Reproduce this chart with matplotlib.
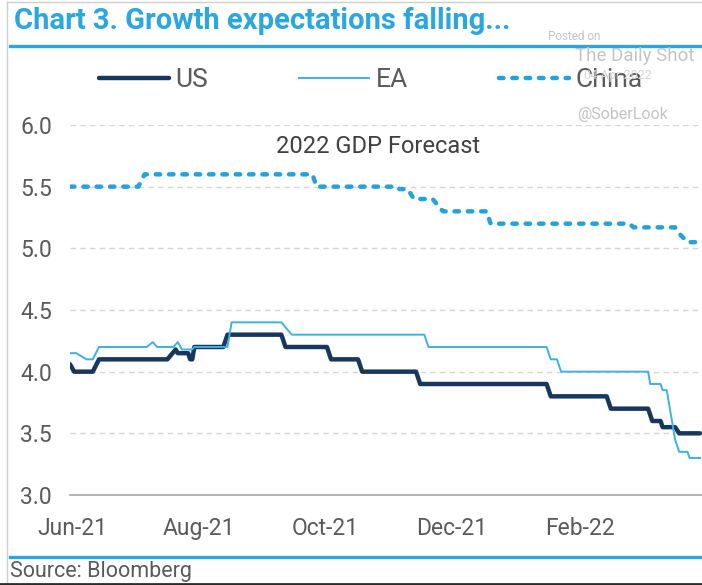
import matplotlib
matplotlib.use("Agg")
import matplotlib.pyplot as plt
from matplotlib.lines import Line2D
import pandas as pd

# 2022 GDP growth forecasts (%), consensus path by date
us_dates = ["2021-05-31", "2021-06-02", "2021-06-11", "2021-06-14", "2021-07-17",
            "2021-07-21", "2021-07-22", "2021-07-27", "2021-07-28", "2021-07-29",
            "2021-07-30", "2021-08-13", "2021-08-15", "2021-09-10", "2021-09-12",
            "2021-10-02", "2021-10-04", "2021-10-17", "2021-10-19", "2021-11-14",
            "2021-11-16", "2022-01-16", "2022-01-18", "2022-02-14", "2022-02-16",
            "2022-03-06", "2022-03-08", "2022-03-12", "2022-03-13", "2022-03-19",
            "2022-03-21", "2022-03-31"]
us_values = [4.06, 4.0, 4.0, 4.1, 4.1,
             4.18, 4.15, 4.15, 4.1, 4.1,
             4.2, 4.2, 4.3, 4.3, 4.2,
             4.2, 4.1, 4.1, 4.0, 4.0,
             3.9, 3.9, 3.8, 3.8, 3.7,
             3.7, 3.6, 3.6, 3.55, 3.55,
             3.5, 3.5]

ea_dates = ["2021-05-31", "2021-06-03", "2021-06-08", "2021-06-11", "2021-06-14",
            "2021-07-07", "2021-07-10", "2021-07-12", "2021-07-20", "2021-07-22",
            "2021-07-24", "2021-07-29", "2021-07-30", "2021-08-15", "2021-08-17",
            "2021-09-10", "2021-09-15", "2021-11-18", "2021-11-20", "2022-01-16",
            "2022-01-18", "2022-01-21", "2022-01-23", "2022-03-06", "2022-03-07",
            "2022-03-12", "2022-03-13", "2022-03-15", "2022-03-19", "2022-03-21",
            "2022-03-25", "2022-03-26", "2022-03-31"]
ea_values = [4.15, 4.15, 4.1, 4.1, 4.2,
             4.2, 4.24, 4.2, 4.2, 4.24,
             4.18, 4.18, 4.2, 4.2, 4.4,
             4.4, 4.3, 4.3, 4.2, 4.2,
             4.1, 4.1, 4.0, 4.0, 3.9,
             3.9, 3.85, 3.85, 3.45, 3.35,
             3.35, 3.3, 3.3]

china_dates = ["2021-05-31", "2021-07-03", "2021-07-06", "2021-09-25", "2021-09-27",
               "2021-11-05", "2021-11-06", "2021-11-10", "2021-11-13", "2021-11-22",
               "2021-11-27", "2021-12-18", "2021-12-20", "2022-02-25", "2022-02-27",
               "2022-03-19", "2022-03-21", "2022-03-25", "2022-03-31"]
china_values = [5.5, 5.5, 5.6, 5.6, 5.5,
                5.5, 5.48, 5.48, 5.4, 5.4,
                5.3, 5.3, 5.2, 5.2, 5.17,
                5.17, 5.12, 5.05, 5.05]

series_names = ["US", "EA", "China"]
tick_dates = ["2021-06-01", "2021-08-01", "2021-10-01", "2021-12-01", "2022-02-01"]
tick_labels = ["Jun-21", "Aug-21", "Oct-21", "Dec-21", "Feb-22"]
y_ticks = [3.0, 3.5, 4.0, 4.5, 5.0, 5.5, 6.0]

NAVY = "#17375E"
SKY = "#3DB1E2"
CHINA_BLUE = "#22A3DB"
TITLE_BLUE = "#2AA7DF"
TEXT_GREY = "#5A5A5A"
WM_GREY = "#C4C4C4"

plt.rcParams["font.family"] = ["Roboto", "DejaVu Sans"]

W, H = 702, 585
fig = plt.figure(figsize=(W / 100, H / 100), dpi=100)
fig.patch.set_facecolor("white")


def fx(px):
    return px / W


def fy(py):
    return 1 - py / H


ax = fig.add_axes([fx(70), fy(495), fx(702) - fx(70), fy(125) - fy(495)])

ax.plot(pd.to_datetime(us_dates), us_values, color=NAVY, lw=3.2,
        solid_joinstyle="round", solid_capstyle="round", label=series_names[0], zorder=4)
ax.plot(pd.to_datetime(ea_dates), ea_values, color=SKY, lw=1.4,
        label=series_names[1], zorder=5)
ax.plot(pd.to_datetime(china_dates), china_values, color=CHINA_BLUE, lw=3.2,
        dashes=(1.0, 2.0), dash_capstyle="round", label=series_names[2], zorder=3)

ax.set_xlim(pd.Timestamp("2021-05-31"), pd.Timestamp("2022-04-01"))
ax.set_ylim(3.0, 6.0)
ax.set_yticks(y_ticks)
ax.set_yticklabels([f"{v:.1f}" for v in y_ticks])
ax.set_xticks(pd.to_datetime(tick_dates))
ax.set_xticklabels(tick_labels)

ax.tick_params(axis="both", length=0, labelsize=16.5, labelcolor=TEXT_GREY)
ax.tick_params(axis="y", pad=13)
ax.tick_params(axis="x", pad=16)

ax.grid(axis="y", color="#D6D6D6", lw=1.0, linestyle=(0, (4, 3)))
ax.grid(axis="x", visible=False)
for side in ("top", "right", "left"):
    ax.spines[side].set_visible(False)
ax.spines["bottom"].set_color("#A6A6A6")
ax.spines["bottom"].set_linewidth(1.2)
ax.set_axisbelow(True)

ax.text(0.487, 0.943, "2022 GDP Forecast", transform=ax.transAxes,
        ha="center", va="center", fontsize=17, color="#404040")

# watermark
fig.text(fx(548), fy(36), "Posted on", fontsize=8.5, color=WM_GREY, va="center")
fig.text(fx(575), fy(56), "The Daily Shot", fontsize=13.5, color=WM_GREY, va="center")
fig.text(fx(652), fy(75), "04-Apr-2022", fontsize=9, color="#D4D4D4",
         va="center", ha="right", zorder=0)
fig.text(fx(577), fy(115), "@SoberLook", fontsize=11.5, color=WM_GREY, va="center")

leg = ax.legend(loc="center left", bbox_to_anchor=(fx(99), fy(80)),
                bbox_transform=fig.transFigure, ncol=3, frameon=False,
                prop={"size": 19}, handlelength=2.65,
                handletextpad=0.25, columnspacing=3.45, borderpad=0, borderaxespad=0)
for t in leg.get_texts():
    t.set_color(TEXT_GREY)

# title, rules and frame
fig.text(fx(14), fy(21), "Chart 3. Growth expectations falling...", fontsize=21,
         fontweight="bold", color=TITLE_BLUE, va="center", ha="left")
fig.add_artist(Line2D([fx(10), 1], [fy(46), fy(46)], color=TITLE_BLUE, lw=2.4))
fig.add_artist(Line2D([fx(10), 1], [fy(557), fy(557)], color=TITLE_BLUE, lw=2.4))
fig.text(fx(10), fy(572), "Source: Bloomberg", fontsize=15.5, color=TEXT_GREY,
         va="center", ha="left")
fig.add_artist(Line2D([fx(7), fx(7)], [fy(2), fy(585)], color="#CFCFCF", lw=1.0))
fig.add_artist(Line2D([fx(7), 1], [fy(2), fy(2)], color="#CFCFCF", lw=1.0))
fig.add_artist(Line2D([0, 1], [fy(584), fy(584)], color="#2B2B2B", lw=2.0))

fig.savefig("out.png", dpi=100, facecolor="white")
